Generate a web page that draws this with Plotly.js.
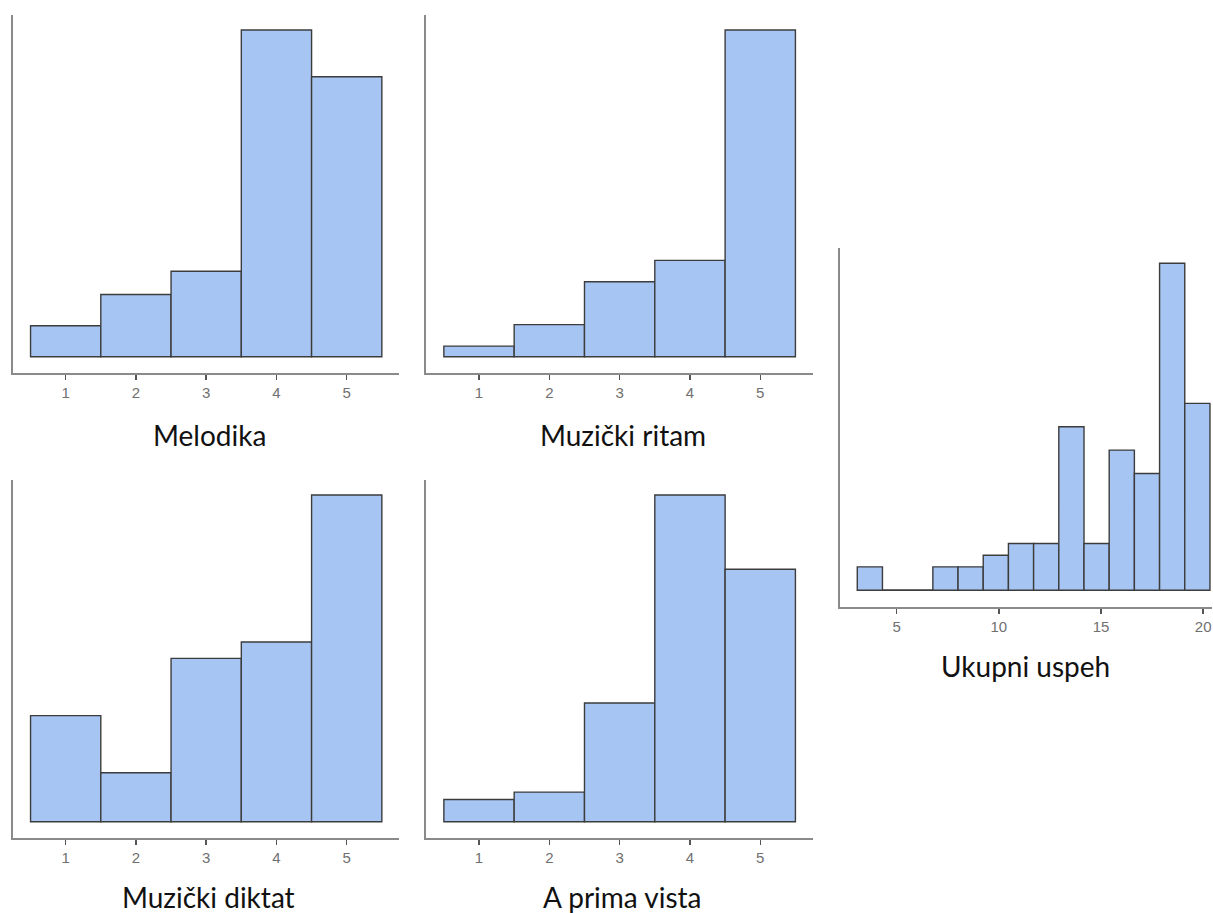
<!DOCTYPE html>
<html>
<head>
<meta charset="utf-8">
<script src="https://cdn.plot.ly/plotly-3.0.1.min.js"></script>
<style>html,body{margin:0;padding:0;background:#fff;}#chart{width:1213px;height:913px;}</style>
</head>
<body>
<div id="chart"></div>
<script>
// ---- data ----
const gradeCategories = [1, 2, 3, 4, 5];
const melodika = [4, 8, 11, 42, 36];
const muzickiRitam = [2, 6, 14, 18, 61];
const muzickiDiktat = [13, 6, 20, 22, 40];
const aPrimaVista = [3, 4, 16, 44, 34];
const ukupniCounts = [2, 0, 0, 2, 2, 3, 4, 4, 14, 4, 12, 10, 28, 16];
const ukupniBinStart = 3.075;
const ukupniBinWidth = 1.2325;
const ukupniTicks = [5, 10, 15, 20];
const titles = ["Melodika", "Muzički ritam", "Muzički diktat", "A prima vista", "Ukupni uspeh"];

// ---- style ----
const W = 1213, H = 913;
const fill = "#a7c5f2";
const edge = "#3c3c3c";
const axisCol = "#8a8a8a";
const px = v => v / W;
const py = v => 1 - v / H;

const ukupniCenters = ukupniCounts.map((c, i) => ukupniBinStart + ukupniBinWidth * (i + 0.5));

const panels = [
  {y: melodika, x: gradeCategories, w: 1, xd: [12.7, 398.7], yd: [15, 373.3], xr: [0.246, 5.74], ticks: gradeCategories, tOff: 61.5, tx: 209},
  {y: muzickiRitam, x: gradeCategories, w: 1, xd: [426, 813], yd: [15, 373.3], xr: [0.246, 5.75], ticks: gradeCategories, tOff: 61.5, tx: 622.5},
  {y: muzickiDiktat, x: gradeCategories, w: 1, xd: [12.7, 398.7], yd: [480, 838.3], xr: [0.246, 5.74], ticks: gradeCategories, tOff: 59, tx: 208.5},
  {y: aPrimaVista, x: gradeCategories, w: 1, xd: [426, 813], yd: [480, 838.3], xr: [0.246, 5.75], ticks: gradeCategories, tOff: 59, tx: 622},
  {y: ukupniCounts, x: ukupniCenters, w: ukupniBinWidth, xd: [840, 1212], yd: [248.3, 606.7], xr: [2.23, 20.43], ticks: ukupniTicks, tOff: 59.5, tx: 1025}
];

const data = [];
const layout = {
  width: W, height: H,
  margin: {l: 0, r: 0, t: 0, b: 0},
  paper_bgcolor: "#fff", plot_bgcolor: "#fff",
  showlegend: false,
  bargap: 0,
  annotations: [],
  shapes: []
};

panels.forEach((p, i) => {
  const n = i + 1;
  const xa = "x" + (n === 1 ? "" : n), ya = "y" + (n === 1 ? "" : n);
  data.push({
    type: "bar", x: p.x, y: p.y, width: p.w,
    xaxis: xa, yaxis: ya,
    marker: {color: fill, line: {color: edge, width: 1.4}},
    hoverinfo: "x+y"
  });
  const mx = Math.max(...p.y);
  layout["xaxis" + (n === 1 ? "" : n)] = {
    domain: [px(p.xd[0]), px(p.xd[1])],
    anchor: ya,
    range: p.xr,
    tickmode: "array", tickvals: p.ticks, ticktext: p.ticks.map(String),
    showline: true, linecolor: axisCol, linewidth: 2,
    ticks: "outside", ticklen: 5, tickwidth: 1.5, tickcolor: "#555",
    tickfont: {family: "Liberation Sans, Arial, sans-serif", size: 15, color: "#707070"},
    showgrid: false, zeroline: false, fixedrange: true
  };
  layout["yaxis" + (n === 1 ? "" : n)] = {
    domain: [py(p.yd[1]), py(p.yd[0])],
    anchor: xa,
    range: [-mx * 16.5 / 327, mx * 342 / 327],
    showline: true, linecolor: axisCol, linewidth: 2,
    showticklabels: false, ticks: "", showgrid: false, zeroline: false, fixedrange: true
  };
  layout.annotations.push({
    xref: "paper", yref: "paper",
    x: px(p.tx),
    y: py(p.yd[1] + p.tOff),
    yanchor: "middle", xanchor: "center",
    text: titles[i], showarrow: false,
    font: {family: "Lato, 'Open Sans', sans-serif", size: 28, color: "#111"}
  });
});

// baseline of the empty bins in the total-score histogram
layout.shapes.push({
  type: "line", xref: "x5", yref: "y5",
  x0: ukupniBinStart, x1: ukupniBinStart + ukupniBinWidth * ukupniCounts.length,
  y0: 0, y1: 0,
  line: {color: edge, width: 1.4}, layer: "below"
});

Plotly.newPlot("chart", data, layout, {displayModeBar: false, staticPlot: true});
</script>
</body>
</html>
